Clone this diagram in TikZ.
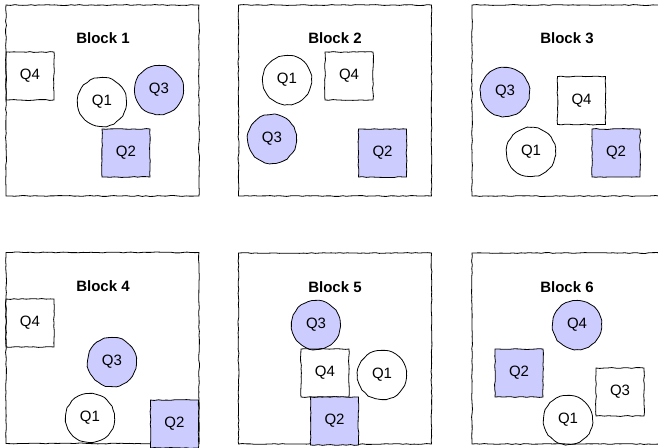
\documentclass[tikz,border=0pt]{standalone}
\usepackage{fontspec}
\setmainfont{Liberation Sans}
\usetikzlibrary{decorations.pathmorphing}
\definecolor{qfill}{RGB}{204,204,255}
\begin{document}
\begin{tikzpicture}[x=1pt,y=-1pt,
  hand/.style={decorate, decoration={random steps, segment length=4pt, amplitude=0.45pt}, line width=0.8pt, draw=black},
  frame/.style={hand, rectangle, minimum width=193pt, minimum height=191pt, inner sep=0pt},
  title/.style={font=\bfseries\fontsize{15}{15}\selectfont, inner sep=0pt},
  qbox/.style={hand, rectangle, minimum size=48pt, inner sep=0pt, font=\fontsize{15}{15}\selectfont},
  qcirc/.style={hand, circle, minimum size=49pt, inner sep=0pt, font=\fontsize{15}{15}\selectfont},
  hi/.style={fill=qfill}]
\pgfmathsetseed{7}
\useasboundingbox (0,0) rectangle (658,447);
\clip (0,0) rectangle (658,447);
% frames
\node[frame] (b1) at (102.5,100.5) {};
\node[frame] (b2) at (335,100.5) {};
\node[frame] (b3) at (568.5,100.5) {};
\node[frame] (b4) at (102.5,348) {};
\node[frame] (b5) at (335,348.5) {};
\node[frame] (b6) at (568.5,348.5) {};
% titles
\node[title] (t1) at (103,38) {Block 1};
\node[title] (t2) at (335,38) {Block 2};
\node[title] (t3) at (567,38) {Block 3};
\node[title] (t4) at (103,286) {Block 4};
\node[title] (t5) at (335,287) {Block 5};
\node[title] (t6) at (567,287) {Block 6};
% block 1
\node[qbox] (b1q4) at (30,76) {Q4};
\node[qcirc] (b1q1) at (102,102) {Q1};
\node[qcirc,hi] (b1q3) at (159,90) {Q3};
\node[qbox,hi] (b1q2) at (126,153) {Q2};
% block 2
\node[qcirc] (b2q1) at (287,80) {Q1};
\node[qbox] (b2q4) at (349,76) {Q4};
\node[qcirc,hi] (b2q3) at (272,139) {Q3};
\node[qbox,hi] (b2q2) at (382.5,153) {Q2};
% block 3
\node[qcirc,hi] (b3q3) at (505,92) {Q3};
\node[qbox] (b3q4) at (581.5,100.5) {Q4};
\node[qcirc] (b3q1) at (531,152) {Q1};
\node[qbox,hi] (b3q2) at (616,153) {Q2};
% block 4
\node[qbox] (b4q4) at (30,323) {Q4};
\node[qcirc,hi] (b4q3) at (112,362) {Q3};
\node[qcirc] (b4q1) at (90,418) {Q1};
\node[qbox,hi] (b4q2) at (174.5,424) {Q2};
% block 5
\node[qcirc,hi] (b5q3) at (316,325) {Q3};
\node[qbox] (b5q4) at (325,373) {Q4};
\node[qcirc] (b5q1) at (382,375) {Q1};
\node[qbox,hi] (b5q2) at (334.5,421) {Q2};
% block 6
\node[qcirc,hi] (b6q4) at (577,325) {Q4};
\node[qbox,hi] (b6q2) at (519,373) {Q2};
\node[qbox] (b6q3) at (620,392) {Q3};
\node[qcirc] (b6q1) at (568,420) {Q1};
\end{tikzpicture}
\end{document}
